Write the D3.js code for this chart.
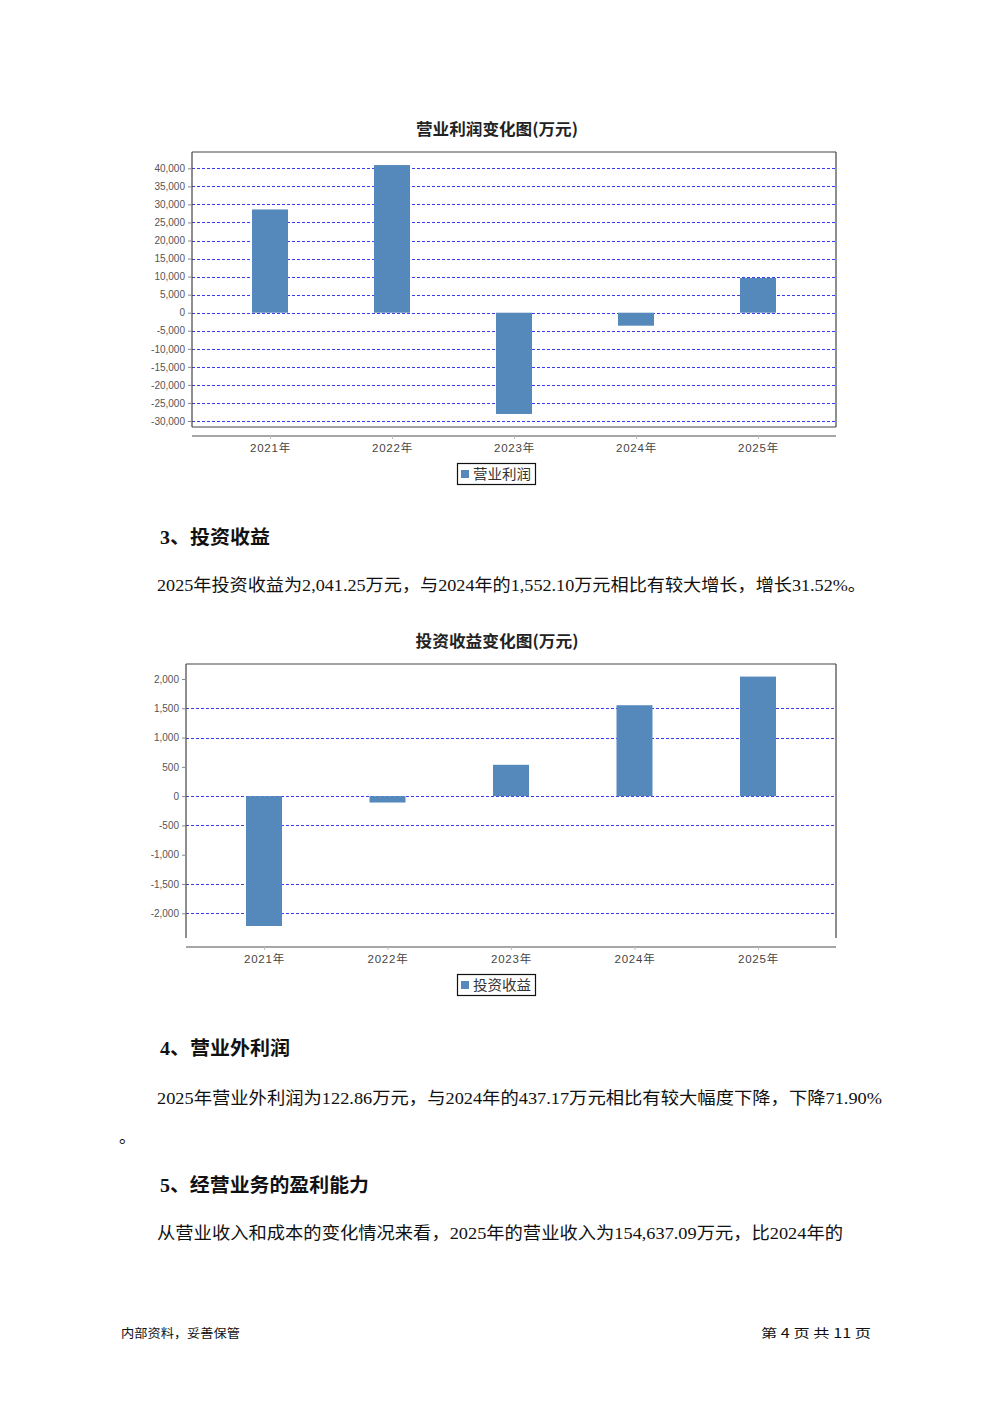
<!DOCTYPE html>
<html><head><meta charset="utf-8">
<script src="https://cdn.jsdelivr.net/npm/d3@7"></script>
<style>
html,body{margin:0;padding:0;background:#fff;}
svg{display:block;}
</style></head>
<body>
<svg id="page" width="992" height="1403"></svg>
<script>
// ---------- data ----------
const years = ["2021年", "2022年", "2023年", "2024年", "2025年"];
const operatingProfit = [28600, 40900, -28050, -3600, 9610];
const investmentIncome = [-2217, -109, 535, 1552.10, 2041.25];
const profitTicks = [40000, 35000, 30000, 25000, 20000, 15000, 10000, 5000, 0, -5000, -10000, -15000, -20000, -25000, -30000];
const profitGrid = profitTicks;
const investTicks = [2000, 1500, 1000, 500, 0, -500, -1000, -1500, -2000];
const investGrid = [1500, 1000, 0, -500, -1500, -2000];

const svg = d3.select("#page");
svg.append("rect").attr("width", 992).attr("height", 1403).attr("fill", "#fff");

const fmt = d3.formatLocale({decimal: ".", thousands: ",", grouping: [3], currency: ["", ""], minus: "-"}).format(",");
const BAR = "#5589bc";
const GRID = "#3a3af0";
const SANS = "'Liberation Sans', Arial, 'Noto Sans CJK SC', sans-serif";
const CJK = "'Noto Sans CJK SC', sans-serif";

function drawChart(c) {
  const g = svg.append("g");
  // title
  g.append("text").attr("x", c.titleX).attr("y", c.titleY)
    .attr("text-anchor", "middle").attr("font-family", CJK).attr("font-weight", "bold")
    .attr("font-size", 16).attr("fill", "#222")
    .attr("textLength", c.titleW).attr("lengthAdjust", "spacingAndGlyphs")
    .text(c.title);

  const x = d3.scalePoint().domain(c.cats).range([c.x0 + 78, c.x1 - 78]);
  const y = d3.scaleLinear().domain(c.yDomain).range([c.y1, c.y0]);

  // gridlines
  g.append("g").selectAll("line").data(c.grid).join("line")
    .attr("x1", c.x0).attr("x2", c.x1)
    .attr("y1", d => Math.round(y(d)) + 0.5).attr("y2", d => Math.round(y(d)) + 0.5)
    .attr("stroke", GRID).attr("stroke-width", 1).attr("stroke-dasharray", "3,2");

  // bars
  g.append("g").selectAll("rect").data(c.values).join("rect")
    .attr("x", (d, i) => x(c.cats[i]) - 18)
    .attr("width", 36)
    .attr("y", d => y(Math.max(0, d)))
    .attr("height", d => Math.abs(y(d) - y(0)))
    .attr("fill", BAR);

  // plot border
  const b = g.append("g").attr("stroke", "#444").attr("stroke-width", 1.2).attr("fill", "none");
  b.append("line").attr("x1", c.x0).attr("x2", c.x1).attr("y1", c.y0).attr("y2", c.y0);
  b.append("line").attr("x1", c.x0).attr("x2", c.x0).attr("y1", c.y0).attr("y2", c.y1);
  b.append("line").attr("x1", c.x1).attr("x2", c.x1).attr("y1", c.y0).attr("y2", c.y1);
  if (c.bottomBorder) b.append("line").attr("x1", c.x0).attr("x2", c.x1).attr("y1", c.y1).attr("y2", c.y1);

  // y axis
  const ya = g.append("g").attr("transform", `translate(${c.x0 - 1},0)`)
    .call(d3.axisLeft(y).tickValues(c.ticks).tickFormat(fmt).tickSize(3).tickPadding(3));
  ya.select(".domain").remove();
  ya.selectAll(".tick line").attr("stroke", "#888");
  ya.selectAll(".tick text").attr("font-family", SANS).attr("font-size", 10).attr("fill", "#555");

  // category axis
  const xa = g.append("g").attr("transform", `translate(0,${c.axisY})`)
    .call(d3.axisBottom(x).tickSize(3).tickPadding(5));
  xa.select(".domain").attr("d", `M${c.x0},0H${c.x1}`).attr("stroke", "#888").attr("stroke-width", 1.5);
  xa.selectAll(".tick line").attr("stroke", "#bbb");
  xa.selectAll(".tick text").attr("font-family", SANS).attr("font-size", 11.5)
    .attr("letter-spacing", "0.8px").attr("fill", "#444");

  // legend
  const lg = g.append("g").attr("transform", `translate(457,${c.legendY})`);
  lg.append("rect").attr("x", 0.5).attr("y", 0.5).attr("width", 78).attr("height", 21)
    .attr("fill", "#fff").attr("stroke", "#111").attr("stroke-width", 1.2);
  lg.append("rect").attr("x", 4).attr("y", 7).attr("width", 8).attr("height", 8).attr("fill", BAR);
  lg.append("text").attr("x", 16).attr("y", 16).attr("font-family", CJK).attr("font-size", 14)
    .attr("fill", "#333").attr("textLength", 58).attr("lengthAdjust", "spacingAndGlyphs")
    .text(c.series);
}

drawChart({
  title: "营业利润变化图(万元)", titleX: 497, titleY: 135, titleW: 162,
  series: "营业利润", cats: years, values: operatingProfit,
  x0: 192, x1: 836, y0: 152, y1: 427, yDomain: [-31660, 44515],
  ticks: profitTicks, grid: profitGrid, axisY: 436, legendY: 463, bottomBorder: true
});
drawChart({
  title: "投资收益变化图(万元)", titleX: 497, titleY: 647, titleW: 163,
  series: "投资收益", cats: years, values: investmentIncome,
  x0: 186, x1: 836, y0: 664, y1: 938, yDomain: [-2422, 2256],
  ticks: investTicks, grid: investGrid, axisY: 947, legendY: 974, bottomBorder: false
});

// ---------- document text ----------
const BODY = "'Liberation Serif', 'Times New Roman', 'Noto Sans CJK SC', serif";
const texts = [
  {t: "3、投资收益", x: 160, y: 544, w: 110, s: 19, b: true},
  {t: "2025年投资收益为2,041.25万元，与2024年的1,552.10万元相比有较大增长，增长31.52%。", x: 157, y: 591, w: 709, s: 17},
  {t: "4、营业外利润", x: 160, y: 1055, w: 130, s: 19, b: true},
  {t: "2025年营业外利润为122.86万元，与2024年的437.17万元相比有较大幅度下降，下降71.90%", x: 157, y: 1104, w: 725, s: 17},
  {t: "。", x: 119, y: 1143, s: 17},
  {t: "5、经营业务的盈利能力", x: 160, y: 1192, w: 209, s: 19, b: true},
  {t: "从营业收入和成本的变化情况来看，2025年的营业收入为154,637.09万元，比2024年的", x: 157, y: 1239, w: 686, s: 17},
  {t: "内部资料，妥善保管", x: 121, y: 1338, w: 119, s: 12.5, f: CJK},
  {t: "第 4 页  共 11 页", x: 761, y: 1338, w: 110, s: 12.5, f: CJK}
];
texts.forEach(d => {
  const el = svg.append("text").attr("x", d.x).attr("y", d.y)
    .attr("font-family", d.f || BODY).attr("font-size", d.s)
    .attr("font-weight", d.b ? "bold" : "normal").attr("fill", "#111").text(d.t);
  if (d.w) el.attr("textLength", d.w).attr("lengthAdjust", "spacingAndGlyphs");
});
</script>
</body></html>
